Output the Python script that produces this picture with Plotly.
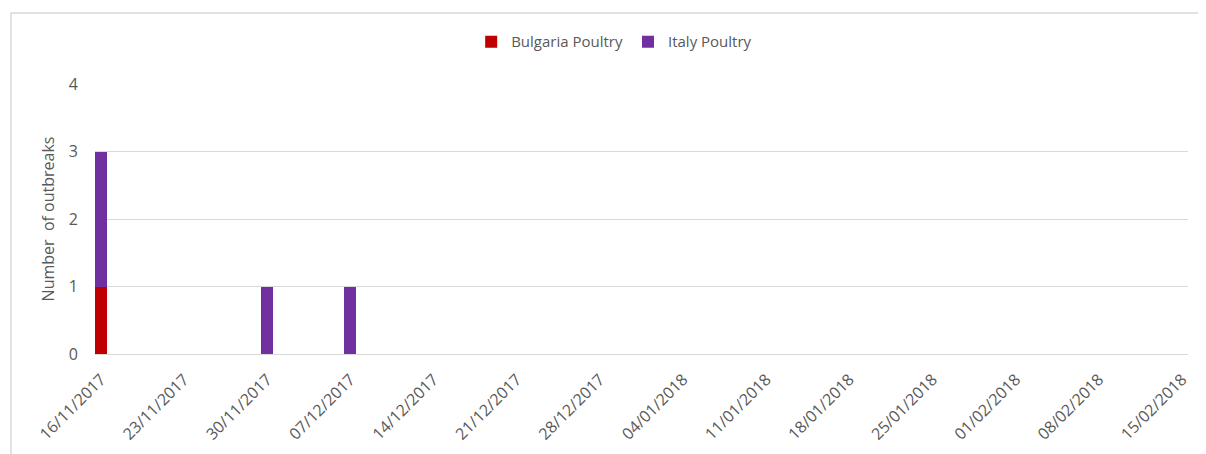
import plotly.graph_objects as go

dates = ["2017-11-16", "2017-11-30", "2017-12-07"]
bulgaria = [1, 0, 0]
italy = [2, 1, 1]

tick_dates = ["2017-11-16", "2017-11-23", "2017-11-30", "2017-12-07", "2017-12-14",
              "2017-12-21", "2017-12-28", "2018-01-04", "2018-01-11", "2018-01-18",
              "2018-01-25", "2018-02-01", "2018-02-08", "2018-02-15"]
tick_labels = ["16/11/2017", "23/11/2017", "30/11/2017", "07/12/2017", "14/12/2017",
               "21/12/2017", "28/12/2017", "04/01/2018", "11/01/2018", "18/01/2018",
               "25/01/2018", "01/02/2018", "08/02/2018", "15/02/2018"]

day = 86400000
grey = "#595959"
font = "Open Sans"

fig = go.Figure()
fig.add_trace(go.Bar(x=dates, y=bulgaria, name="Bulgaria Poultry",
                     marker=dict(color="#C00000", line=dict(width=0)), width=day))
fig.add_trace(go.Bar(x=dates, y=italy, name="Italy Poultry",
                     marker=dict(color="#7030A0", line=dict(width=0)), width=day))

# page body adds 8px offset, so margins are reduced by 8
fig.update_layout(
    barmode="stack",
    width=1198, height=446,
    margin=dict(l=87, r=18, t=76, b=100),
    plot_bgcolor="white", paper_bgcolor="white",
    font=dict(family=font, size=15, color=grey),
    legend=dict(orientation="h", x=0.475, xanchor="center", y=1.156, yanchor="middle",
                font=dict(size=15, color=grey), traceorder="normal"),
    xaxis=dict(type="date", range=["2017-11-15 12:00", "2018-02-15 12:00"],
               tickvals=tick_dates, ticktext=tick_labels, tickangle=-45,
               showgrid=False, showline=False, zeroline=False, ticks="",
               ticklabelstandoff=12, automargin=False,
               tickfont=dict(size=16, color=grey)),
    yaxis=dict(range=[0, 4], dtick=1, showgrid=True, gridcolor="#D9D9D9", gridwidth=1,
               zeroline=True, zerolinecolor="#D9D9D9", zerolinewidth=1,
               ticks="", ticklabelstandoff=16, tickfont=dict(size=16, color=grey),
               automargin=False,
               title=dict(text="Number  of outbreaks", font=dict(size=16, color=grey),
                          standoff=10)),
    shapes=[dict(type="rect", xref="paper", yref="paper", x0=-0.0769, x1=1.012,
                 y0=-0.4, y1=1.263, line=dict(color="#D9D9D9", width=1.5),
                 fillcolor="rgba(0,0,0,0)", layer="below")],
)

fig.write_html("out.html")
